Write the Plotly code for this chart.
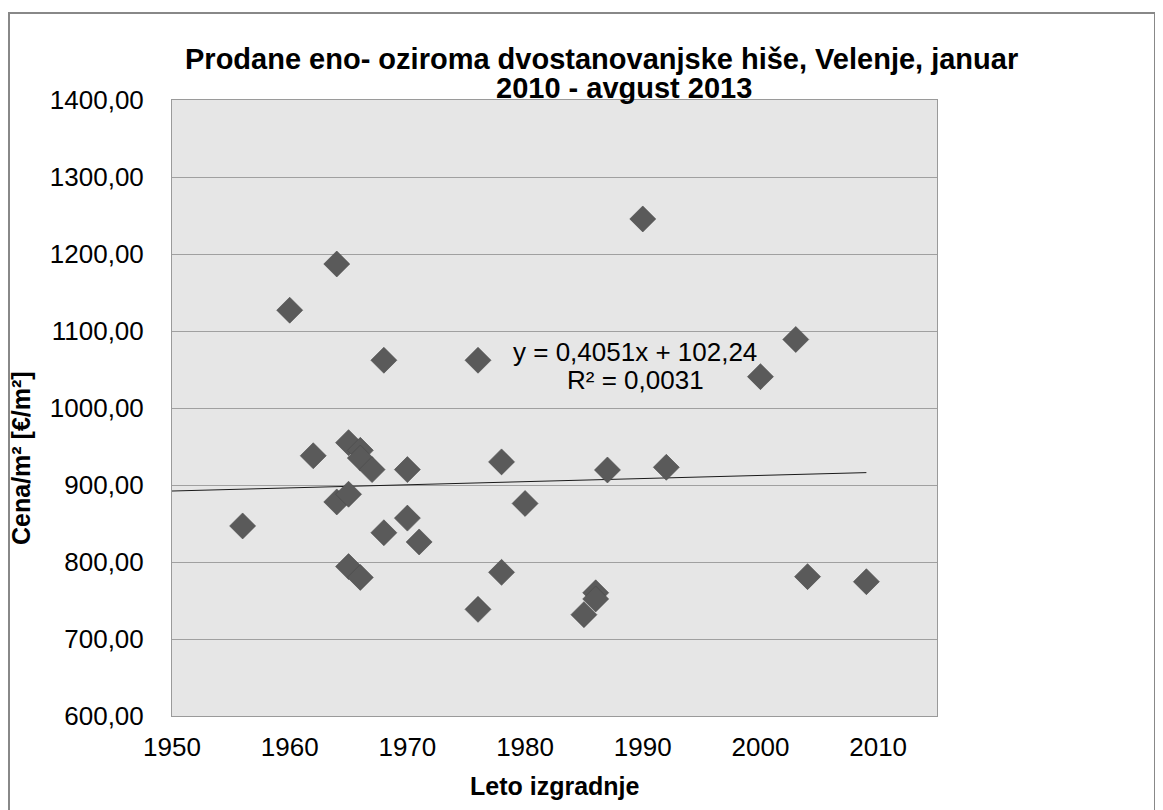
import plotly.graph_objects as go

# ---- data ----
leto = [1956, 1960, 1962, 1964, 1964, 1965, 1965, 1965, 1966, 1966, 1966,
        1967, 1968, 1968, 1970, 1970, 1971, 1976, 1976, 1978, 1978, 1980,
        1985, 1986, 1986, 1987, 1990, 1992, 2000, 2003, 2004, 2009]
cena = [846.8, 1127.0, 938.0, 1187.0, 878.0, 955.0, 888.0, 794.0, 945.0, 935.0, 780.0,
        920.0, 1062.0, 838.0, 920.0, 857.0, 826.0, 1062.0, 738.5, 930.0, 786.6, 876.0,
        731.6, 760.0, 752.0, 919.5, 1245.5, 923.0, 1040.7, 1089.0, 781.0, 774.4]

trend_slope = 0.4051
trend_intercept = 102.24
trend_x = [1950, 2009]
trend_y = [trend_slope * v + trend_intercept for v in trend_x]

x_ticks = [1950, 1960, 1970, 1980, 1990, 2000, 2010]
y_ticks = [600, 700, 800, 900, 1000, 1100, 1200, 1300, 1400]
y_tick_text = ["600,00", "700,00", "800,00", "900,00", "1000,00",
               "1100,00", "1200,00", "1300,00", "1400,00"]

title_line1 = "Prodane eno- oziroma dvostanovanjske hiše, Velenje, januar"
title_line2 = "2010 - avgust 2013"
eq_text = "y = 0,4051x + 102,24"
r2_text = "R² = 0,0031"
x_title = "Leto izgradnje"
y_title = "Cena/m² [€/m²]"

FONT = "Liberation Sans, Arial, sans-serif"

fig = go.Figure()
fig.add_trace(go.Scatter(
    x=trend_x, y=trend_y, mode="lines",
    line=dict(color="#1a1a1a", width=1), hoverinfo="skip", showlegend=False))
fig.add_trace(go.Scatter(
    x=leto, y=cena, mode="markers",
    marker=dict(symbol="diamond", size=20, color="#5a5a5a",
                line=dict(color="#4a4a4a", width=0.6)),
    showlegend=False))

OFF = 8  # page body margin
W, H = 1163 - OFF, 810 - OFF
L, T = 172 - OFF, 100 - OFF
R = W - (937 - OFF)
B = H - (716 - OFF)
pw, ph = W - L - R, H - T - B

def px_x(p):
    return (p - OFF - L) / pw

def px_y(p):
    return (H - B - (p - OFF)) / ph

fig.update_layout(
    width=W, height=H,
    margin=dict(l=L, r=R, t=T, b=B, pad=0),
    paper_bgcolor="white", plot_bgcolor="#e6e6e6",
    font=dict(family=FONT, size=26, color="#000000"),
    showlegend=False,
    xaxis=dict(range=[1950, 2015], tickvals=x_ticks, showgrid=False, zeroline=False,
               showline=True, linecolor="#9a9a9a", linewidth=1, mirror=True,
               ticks="", ticklabelstandoff=8, tickfont=dict(size=26)),
    yaxis=dict(range=[600, 1400], tickvals=y_ticks, ticktext=y_tick_text,
               showgrid=True, gridcolor="#a0a0a0", gridwidth=1, zeroline=False,
               showline=True, linecolor="#9a9a9a", linewidth=1, mirror=True,
               ticks="", ticklabelstandoff=22, tickfont=dict(size=26)),
    shapes=[dict(type="rect", xref="paper", yref="paper",
                 x0=px_x(9), x1=px_x(1155), y0=px_y(840), y1=px_y(13),
                 line=dict(color="#888888", width=2), fillcolor="rgba(0,0,0,0)",
                 layer="below")],
    annotations=[
        dict(text="<b>" + title_line1 + "</b>", xref="paper", yref="paper",
             x=px_x(601), y=px_y(59), xanchor="center", yanchor="middle",
             showarrow=False, font=dict(size=29, family=FONT)),
        dict(text="<b>" + title_line2 + "</b>", xref="paper", yref="paper",
             x=px_x(624), y=px_y(88), xanchor="center", yanchor="middle",
             showarrow=False, font=dict(size=29, family=FONT)),
        dict(text=eq_text, xref="paper", yref="paper",
             x=px_x(635), y=px_y(352), xanchor="center", yanchor="middle",
             showarrow=False, font=dict(size=26, family=FONT)),
        dict(text=r2_text, xref="paper", yref="paper",
             x=px_x(635), y=px_y(380), xanchor="center", yanchor="middle",
             showarrow=False, font=dict(size=26, family=FONT)),
        dict(text="<b>" + x_title + "</b>", xref="paper", yref="paper",
             x=px_x(555), y=px_y(786), xanchor="center", yanchor="middle",
             showarrow=False, font=dict(size=25, family=FONT)),
        dict(text="<b>" + y_title + "</b>", xref="paper", yref="paper",
             x=px_x(21), y=px_y(458), xanchor="center", yanchor="middle",
             textangle=-90, showarrow=False, font=dict(size=25, family=FONT)),
    ],
)

fig.write_html("out.html")
